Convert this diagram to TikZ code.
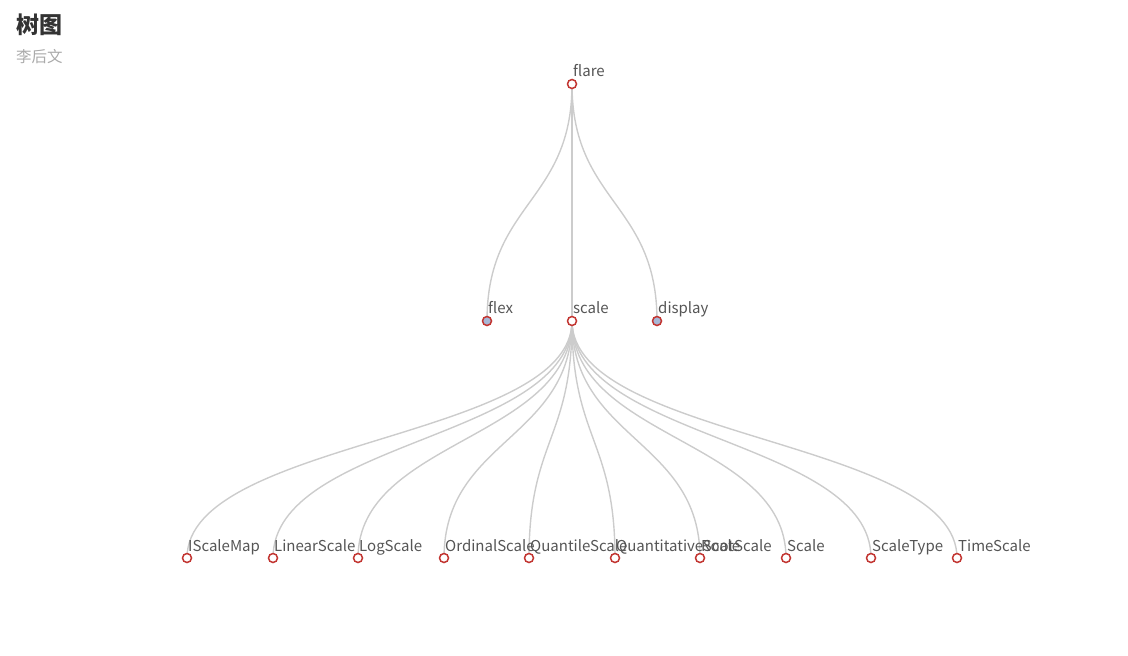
\documentclass[tikz,border=0pt]{standalone}
\usepackage{fontspec}
\setmainfont{Noto Sans CJK SC}
\definecolor{edgec}{HTML}{CCCCCC}
\definecolor{noder}{HTML}{C23531}
\definecolor{nodeb}{HTML}{A7B7D6}
\definecolor{txt}{HTML}{555555}
\definecolor{titc}{HTML}{333333}
\definecolor{subc}{HTML}{AAAAAA}
\begin{document}
\begin{tikzpicture}[x=1pt,y=-1pt,
  leaf/.style={circle,draw=noder,line width=1.5pt,fill=white,minimum size=9pt,inner sep=0pt},
  folded/.style={leaf,fill=nodeb},
  lbl/.style={anchor=base west,inner sep=0pt,text=txt,font=\fontsize{15}{15}\selectfont},
  edge/.style={draw=edgec,line width=1.4pt}]
\useasboundingbox (0,0) rectangle (1128,656);
\node[anchor=west,inner sep=0pt,text=titc,font=\fontsize{23}{23}\selectfont\bfseries] (title) at (16,25) {树图};
\node[anchor=west,inner sep=0pt,text=subc,font=\fontsize{15.5}{15.5}\selectfont] (sub) at (16,57) {李后文};
% edges
\newcommand{\tedge}[4]{\draw[edge] (#1,#2) .. controls (#1,{(#2+#4)/2}) and (#3,{(#2+#4)/2}) .. (#3,#4);}
\tedge{572}{84}{487}{321}
\tedge{572}{84}{572}{321}
\tedge{572}{84}{657}{321}
\foreach \x in {187,273,358,444,529,615,700,786,871,957}{\tedge{572}{321}{\x}{558}}
% nodes
\node[leaf] (flare) at (572,84) {};
\node[folded] (flex) at (487,321) {};
\node[leaf] (scale) at (572,321) {};
\node[folded] (display) at (657,321) {};
\node[lbl] (lflare) at (573,76) {flare};
\node[lbl] (lflex) at (488,313) {flex};
\node[lbl] (lscale) at (573,313) {scale};
\node[lbl] (ldisplay) at (658,313) {display};
\foreach \x/\n [count=\i] in {187/IScaleMap,273/LinearScale,358/LogScale,444/OrdinalScale,529/QuantileScale,615/QuantitativeScale,700/RootScale,786/Scale,871/ScaleType,957/TimeScale}{
  \node[leaf] (c\i) at (\x,558) {};
  \node[lbl] (l\i) at (\x+1,551) {\n};
}
\end{tikzpicture}
\end{document}
